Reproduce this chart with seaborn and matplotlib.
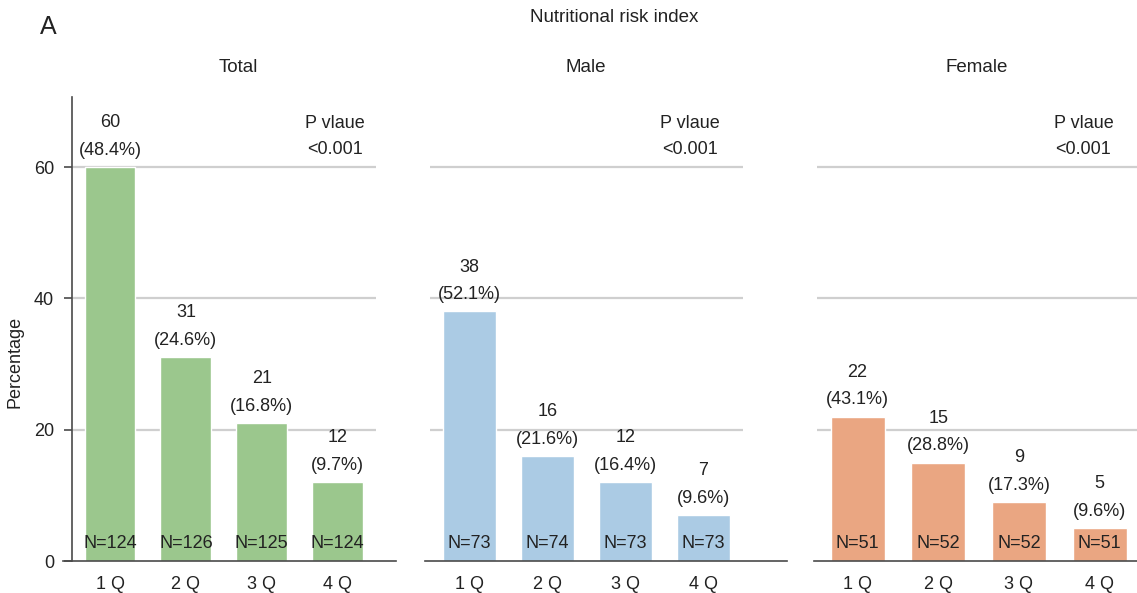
import matplotlib
matplotlib.use("Agg")
import matplotlib.pyplot as plt
import seaborn as sns
import pandas as pd

# ---- data ----
quartiles = ["1 Q", "2 Q", "3 Q", "4 Q"]
panel_titles = ["Total", "Male", "Female"]

total_counts = [60, 31, 21, 12]
total_pct = [48.4, 24.6, 16.8, 9.7]
total_n = [124, 126, 125, 124]

male_counts = [38, 16, 12, 7]
male_pct = [52.1, 21.6, 16.4, 9.6]
male_n = [73, 74, 73, 73]

female_counts = [22, 15, 9, 5]
female_pct = [43.1, 28.8, 17.3, 9.6]
female_n = [51, 52, 52, 51]

p_values = ["<0.001", "<0.001", "<0.001"]
y_ticks = [0, 20, 40, 60]

# ---- style ----
sns.set_theme(style="white")
plt.rcParams["font.family"] = ["Liberation Sans", "DejaVu Sans"]
TEXT = "#222222"
SPINE = "#4a4a4a"
GRID = "#cfcfcf"
colors = ["#9bc78d", "#abcbe4", "#eaa682"]

W, H = 1137, 593
fig = plt.figure(figsize=(W / 100, H / 100), dpi=100)

# panel geometry in pixels: (left, right, xlim)
geom = [
    (63, 396, (-0.62, 3.77)),
    (425, 787, (-0.57, 4.07)),
    (814, 1148, (-0.54, 3.6)),
]
y_bottom_px, y_top_px = 561, 97
ymax = 70.66
p_x = [2.97, 2.83, 2.8]

datasets = [
    (total_counts, total_pct, total_n),
    (male_counts, male_pct, male_n),
    (female_counts, female_pct, female_n),
]

for i, ((left, right, xlim), (counts, pct, ns)) in enumerate(zip(geom, datasets)):
    ax = fig.add_axes([left / W, (H - y_bottom_px) / H,
                       (right - left) / W, (y_bottom_px - y_top_px) / H])
    df = pd.DataFrame({"quartile": quartiles, "count": counts})

    # horizontal reference lines behind the bars
    ax.hlines(y_ticks[1:], -0.5, 3.5, colors=GRID, linewidth=1.6, zorder=0)

    sns.barplot(data=df, x="quartile", y="count", color=colors[i],
                saturation=1, width=0.67, ax=ax, zorder=2)

    ax.set_xlim(*xlim)
    ax.set_ylim(0, ymax)
    ax.set_xlabel("")
    ax.set_ylabel("")

    # labels on and above each bar
    for j, (c, p, n) in enumerate(zip(counts, pct, ns)):
        ax.annotate(f"({p:.1f}%)", (j, c), xytext=(0, 12), textcoords="offset points",
                    ha="center", va="center", fontsize=13, color=TEXT)
        ax.annotate(f"{c}", (j, c), xytext=(0, 32), textcoords="offset points",
                    ha="center", va="center", fontsize=13, color=TEXT)
        ax.text(j, 2.7, f"N={n}", ha="center", va="center", fontsize=13, color=TEXT)

    # p value block
    ax.text(p_x[i], 66.7, "P vlaue", ha="center", va="center", fontsize=13, color=TEXT)
    ax.text(p_x[i], 62.6, p_values[i], ha="center", va="center", fontsize=13, color=TEXT)

    for s in ["top", "right"]:
        ax.spines[s].set_visible(False)
    ax.spines["bottom"].set_color(SPINE)
    ax.spines["bottom"].set_linewidth(1.2)
    ax.tick_params(axis="x", length=0, pad=11, labelsize=13, labelcolor=TEXT)

    if i == 0:
        ax.spines["left"].set_position(("data", -0.5))
        ax.spines["left"].set_color(SPINE)
        ax.spines["left"].set_linewidth(1.2)
        ax.set_yticks(y_ticks)
        ax.tick_params(axis="y", left=True, length=6, width=1.2, color=SPINE,
                       pad=7, labelsize=13, labelcolor=TEXT)
    else:
        ax.spines["left"].set_visible(False)
        ax.set_yticks([])

# titles
fig.text(48 / W, 1 - 27 / H, "A", fontsize=18, color=TEXT, ha="center", va="center")
fig.text(614 / W, 1 - 18 / H, "Nutritional risk index", fontsize=13.5,
         color=TEXT, ha="center", va="center")
for t, xc in zip(panel_titles, [238, 586, 977]):
    fig.text(xc / W, 1 - 67 / H, t, fontsize=13.5, color=TEXT, ha="center", va="center")
fig.text(15 / W, 1 - 362 / H, "Percentage", fontsize=13, color=TEXT,
         rotation=90, ha="center", va="center")

fig.savefig("out.png", dpi=100)
